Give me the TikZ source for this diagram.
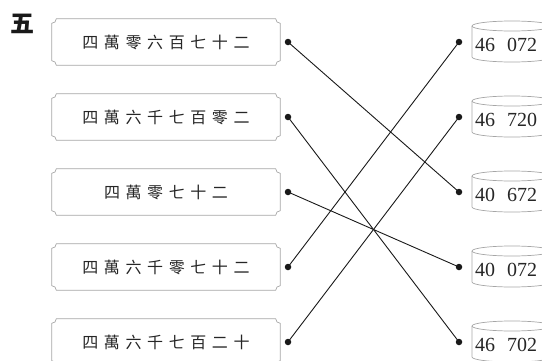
\documentclass[tikz,border=0pt]{standalone}
\usepackage{fontspec}
\setmainfont{Liberation Serif}
\newfontfamily\cjk{Noto Sans CJK TC}
\newlength\plaqr
\setlength\plaqr{4.5pt}
\newcommand\cs{\hspace{5.6pt}}
\newcommand\plaqueoutline[1]{%
  \draw[plaqueline] ([xshift=\plaqr]#1.north west) -- ([xshift=-\plaqr]#1.north east)
    arc[start angle=180,end angle=270,radius=\plaqr]
    -- ([yshift=\plaqr]#1.south east)
    arc[start angle=90,end angle=180,radius=\plaqr]
    -- ([xshift=\plaqr]#1.south west)
    arc[start angle=0,end angle=90,radius=\plaqr]
    -- ([yshift=-\plaqr]#1.north west)
    arc[start angle=270,end angle=360,radius=\plaqr] -- cycle;}
\tikzset{
  plaque/.style={minimum width=228pt,minimum height=46pt,inner sep=0pt,
    font=\cjk\fontsize{16}{16}\selectfont,text=black!85},
  plaqueline/.style={draw=black!35,line width=0.7pt},
  cylline/.style={draw=black!35,line width=0.7pt},
  numtext/.style={anchor=west,inner sep=0pt,font=\fontsize{20}{20}\selectfont,text=black!85},
  dot/.style={circle,fill=black!90,inner sep=0pt,minimum size=6.5pt},
  link/.style={draw=black!90,line width=0.9pt},
}
\begin{document}
\begin{tikzpicture}[x=1pt,y=1pt]
\useasboundingbox (0,0) rectangle (542,360);
\node[font=\cjk\bfseries\fontsize{24}{24}\selectfont,text=black!90] (title) at (22,336) {五};
% left plaques
\node[plaque] (L1) at (166,318) {四\cs 萬\cs 零\cs 六\cs 百\cs 七\cs 十\cs 二};
\node[plaque] (L2) at (166,243) {四\cs 萬\cs 六\cs 千\cs 七\cs 百\cs 零\cs 二};
\node[plaque] (L3) at (166,168) {四\cs 萬\cs 零\cs 七\cs 十\cs 二};
\node[plaque] (L4) at (166,93) {四\cs 萬\cs 六\cs 千\cs 零\cs 七\cs 十\cs 二};
\node[plaque] (L5) at (166,18) {四\cs 萬\cs 六\cs 千\cs 七\cs 百\cs 二\cs 十};
\foreach \n in {L1,L2,L3,L4,L5} {\plaqueoutline{\n}}
% cylinders
\draw[cylline] (472,334) -- (472,303) arc[start angle=180,end angle=360,x radius=40,y radius=5] -- (552,334);
\draw[cylline] (512,334) ellipse[x radius=40,y radius=5];
\node[numtext] (R1) at (475,315) {46\hspace{0.6em}072};
\draw[cylline] (472,259) -- (472,228) arc[start angle=180,end angle=360,x radius=40,y radius=5] -- (552,259);
\draw[cylline] (512,259) ellipse[x radius=40,y radius=5];
\node[numtext] (R2) at (475,240) {46\hspace{0.6em}720};
\draw[cylline] (472,184) -- (472,153) arc[start angle=180,end angle=360,x radius=40,y radius=5] -- (552,184);
\draw[cylline] (512,184) ellipse[x radius=40,y radius=5];
\node[numtext] (R3) at (475,165) {40\hspace{0.6em}672};
\draw[cylline] (472,109) -- (472,78) arc[start angle=180,end angle=360,x radius=40,y radius=5] -- (552,109);
\draw[cylline] (512,109) ellipse[x radius=40,y radius=5];
\node[numtext] (R4) at (475,90) {40\hspace{0.6em}072};
\draw[cylline] (472,34) -- (472,3) arc[start angle=180,end angle=360,x radius=40,y radius=5] -- (552,34);
\draw[cylline] (512,34) ellipse[x radius=40,y radius=5];
\node[numtext] (R5) at (475,15) {46\hspace{0.6em}702};
% dots
\node[dot] (a1) at (288,318) {};
\node[dot] (a2) at (288,243) {};
\node[dot] (a3) at (288,168) {};
\node[dot] (a4) at (288,93) {};
\node[dot] (a5) at (288,18) {};
\node[dot] (b1) at (459,318) {};
\node[dot] (b2) at (459,243) {};
\node[dot] (b3) at (459,168) {};
\node[dot] (b4) at (459,93) {};
\node[dot] (b5) at (459,18) {};
% connectors
\draw[link] (a1.center) -- (b3.center);
\draw[link] (a2.center) -- (b5.center);
\draw[link] (a3.center) -- (b4.center);
\draw[link] (a4.center) -- (b1.center);
\draw[link] (a5.center) -- (b2.center);
\end{tikzpicture}
\end{document}
